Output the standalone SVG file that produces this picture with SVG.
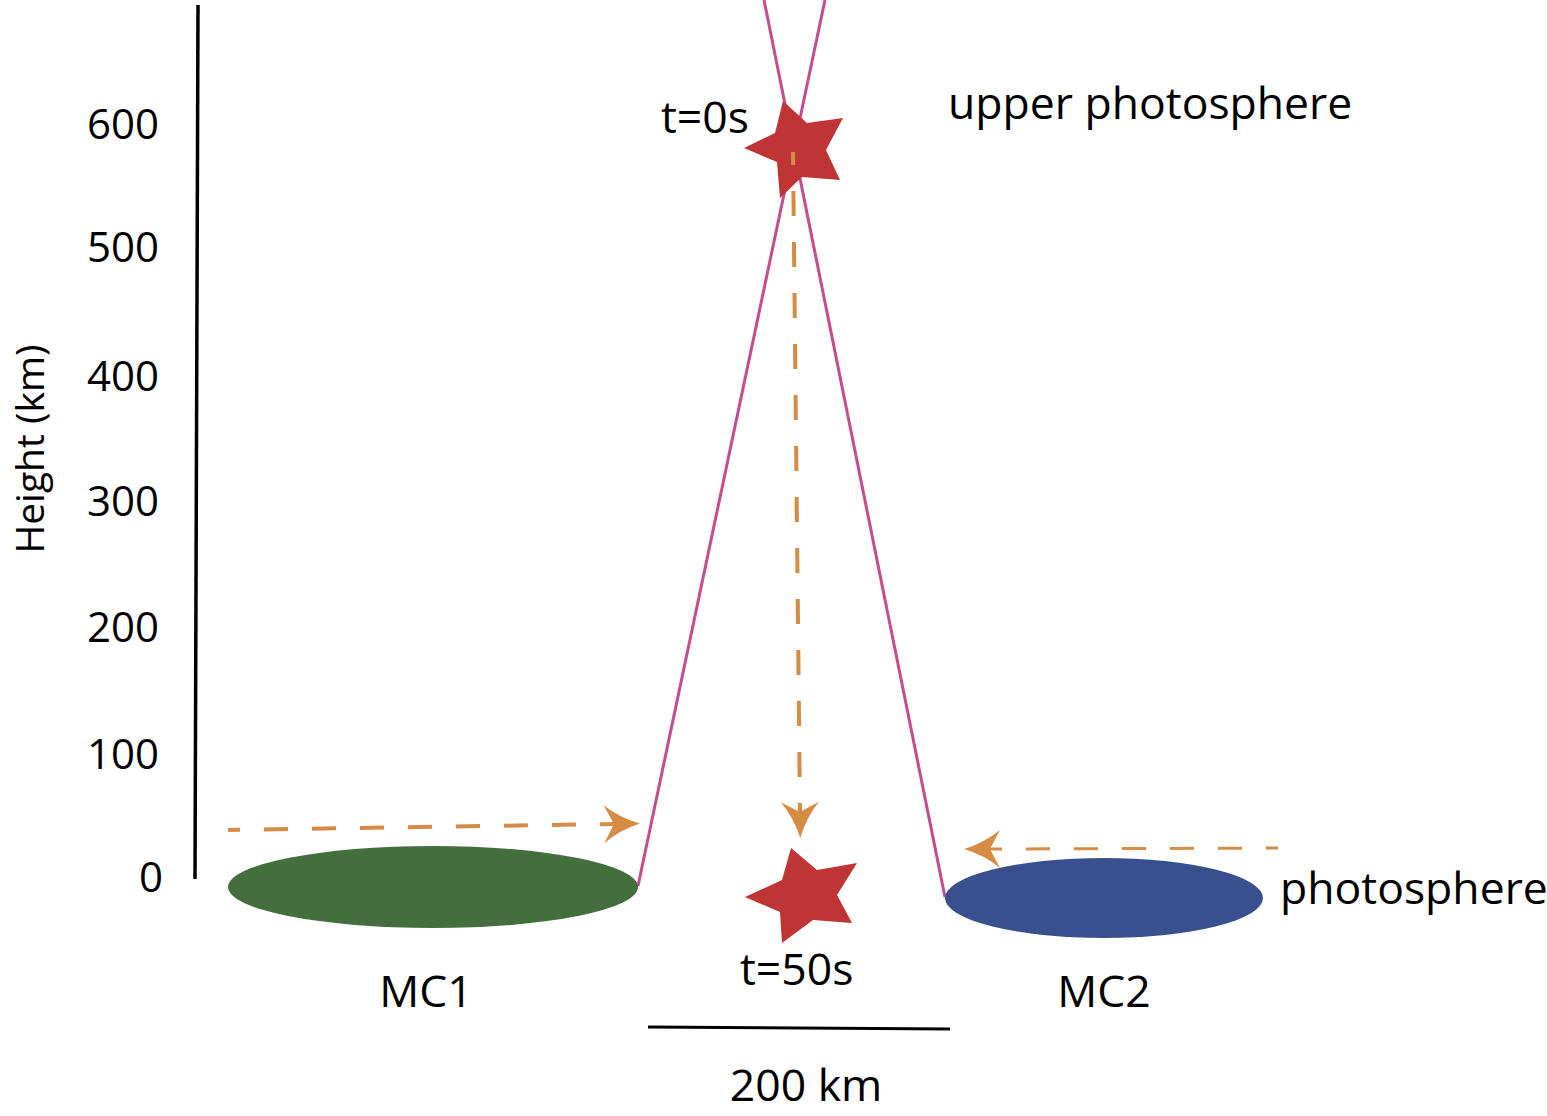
<svg xmlns="http://www.w3.org/2000/svg" width="1547" height="1116" viewBox="0 0 1547 1116">
<style>
text{font-family:"Open Sans","Liberation Sans",sans-serif;fill:#000}
.lbl{font-size:44.5px}
.tick{font-size:42px;text-anchor:end}
.mag{stroke:#c64b8f;stroke-width:3;fill:none}
.dash{stroke:#d68c44;fill:none;stroke-dasharray:24 24;stroke-dashoffset:12}
.star{fill:#bf3434}
</style>
<defs>
<marker id="ah" markerUnits="userSpaceOnUse" viewBox="-12 -21 40 42" refX="0" refY="0" markerWidth="40" markerHeight="42" orient="auto" overflow="visible">
<path d="M26,0 Q6,-6 -10,-19 L0,0 L-10,19 Q6,6 26,0 Z" fill="#d68c44"/>
</marker>
</defs>
<g id="axis">
<line x1="198" y1="5" x2="195" y2="879" stroke="#000" stroke-width="3.5"/>
<text class="tick" x="159" y="139">600</text>
<text class="tick" x="159" y="262">500</text>
<text class="tick" x="159" y="391">400</text>
<text class="tick" x="159" y="516">300</text>
<text class="tick" x="159" y="642">200</text>
<text class="tick" x="159" y="769">100</text>
<text class="tick" x="163" y="892">0</text>
<text font-size="39" text-anchor="middle" transform="translate(44,449) rotate(-90)">Height (km)</text>
</g>
<g id="loops">
<line class="mag" x1="764" y1="0" x2="945" y2="897"/>
<line class="mag" x1="825" y1="0" x2="638" y2="886"/>
</g>
<g id="MC1">
<ellipse cx="433" cy="887" rx="205" ry="41" fill="#446e3e"/>
<text class="lbl" x="426" y="1007" text-anchor="middle">MC1</text>
</g>
<g id="MC2">
<ellipse cx="1104" cy="898" rx="159" ry="40" fill="#3a4f8e"/>
<text class="lbl" x="1104" y="1007" text-anchor="middle">MC2</text>
</g>
<g id="star-top">
<polygon class="star" points="783,101 807,123 843,118 826,150 840,180 802,177 780,198 777,162 744,148 775,133"/>
<text class="lbl" x="661" y="133">t=0s</text>
</g>
<g id="star-bottom">
<polygon class="star" points="791,848 817,870 857,863 837,895 852,923 813,920 782,943 780,912 745,897 782,880"/>
<text class="lbl" x="740" y="985">t=50s</text>
</g>
<g id="connectors">
<line class="dash" x1="228" y1="830" x2="614" y2="824" stroke-width="4" marker-end="url(#ah)"/>
<line class="dash" x1="1278" y1="848" x2="990" y2="849" stroke-width="3" marker-end="url(#ah)"/>
<line class="dash" x1="793" y1="152" x2="800" y2="812" stroke-width="4" style="stroke-dasharray:25 26" marker-end="url(#ah)"/>
</g>
<g id="labels">
<text class="lbl" x="948" y="119">upper photosphere</text>
<text class="lbl" x="1280" y="904">photosphere</text>
</g>
<g id="scale">
<line x1="648" y1="1027" x2="950" y2="1029" stroke="#000" stroke-width="3"/>
<text class="lbl" x="806" y="1101" text-anchor="middle">200 km</text>
</g>
</svg>
